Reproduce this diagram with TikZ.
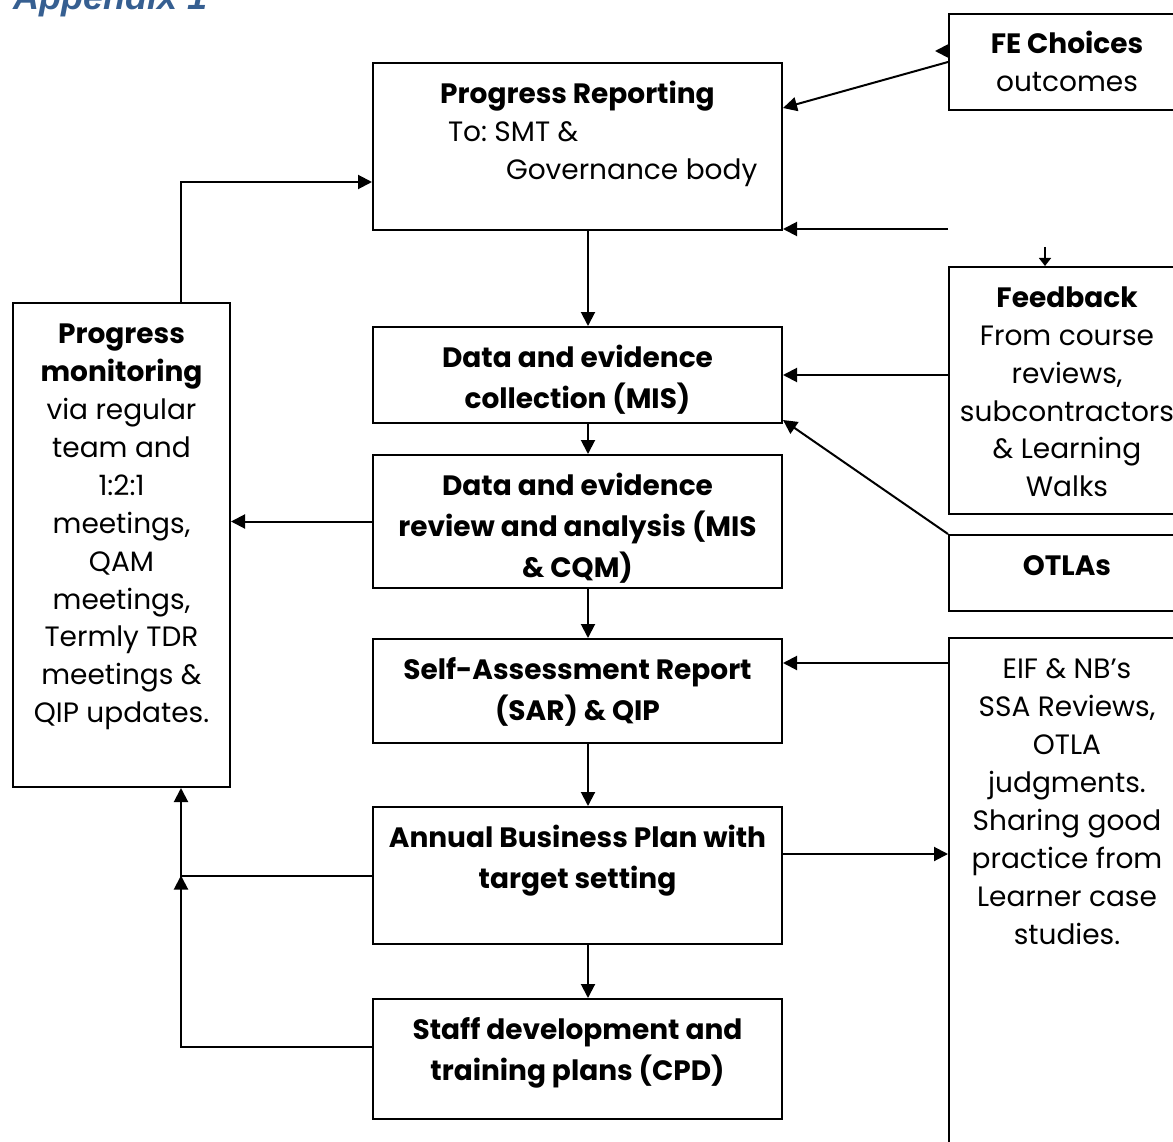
\documentclass[tikz,border=0pt]{standalone}
\usepackage{fontspec}
\setmainfont{Poppins}
\newfontfamily\titlefont{Liberation Sans}
\usepackage{xcolor}
\usetikzlibrary{arrows.meta,positioning,calc}
\definecolor{appblue}{RGB}{54,95,145}
\newcommand{\boxtext}[3]{\parbox[t][#2][t]{#1}{\centering\rule{0pt}{40pt}#3}}

\begin{document}
\begin{tikzpicture}[
    x=1pt, y=-1pt,
    font=\fontsize{28}{38}\selectfont\frenchspacing,
    box/.style={draw, line width=2pt, inner sep=0pt, anchor=north west},
    mainbox/.style={box, font=\fontsize{28}{41}\selectfont\bfseries},
    arr/.style={-{Triangle[length=14pt, width=14pt]}, line width=2pt},
    tinyarr/.style={-{Triangle[length=8pt, width=12pt]}, line width=1.5pt}
]
\useasboundingbox (0,0) rectangle (1173,1142);

% Title
\node[anchor=base west, inner sep=0pt, font=\titlefont\fontsize{36}{40}\selectfont\bfseries\itshape, text=appblue] (title) at (13,10) {Appendix 1};

% Centre column
\node[box] (rep) at (372,62) {\parbox[t][167pt][t]{409pt}{\centering\rule{0pt}{41pt}\textbf{Progress Reporting}\par
    \raggedright\hspace*{75pt}To: SMT \&\\\hspace*{133pt}Governance body}};
\node[mainbox] (coll) at (372,326) {\boxtext{409pt}{96pt}{Data and evidence\\collection (MIS)}};
\node[mainbox] (rev) at (372,454) {\boxtext{409pt}{133pt}{Data and evidence\\review and analysis (MIS\\\& CQM)}};
\node[mainbox] (sar) at (372,638) {\boxtext{409pt}{104pt}{Self-Assessment Report\\(SAR) \& QIP}};
\node[mainbox] (abp) at (372,806) {\boxtext{409pt}{137pt}{Annual Business Plan with\\target setting}};
\node[mainbox] (cpd) at (372,998) {\boxtext{409pt}{120pt}{Staff development and\\training plans (CPD)}};

% Left
\node[box] (mon) at (12,302) {\boxtext{217pt}{484pt}{\textbf{Progress\\monitoring}\\via regular\\team and\\1:2:1\\meetings,\\QAM\\meetings,\\Termly TDR\\meetings \&\\QIP updates.}};

% Right
\node[box] (fe) at (948,13) {\boxtext{236pt}{96pt}{\textbf{FE Choices}\\outcomes}};
\node[box] (fb) at (948,266) {\boxtext{236pt}{247pt}{\textbf{Feedback}\\From course\\reviews,\\subcontractors\\\& Learning\\Walks}};
\node[box] (otla) at (948,534) {\boxtext{236pt}{76pt}{\textbf{OTLAs}}};
\node[box] (eif) at (948,637) {\boxtext{236pt}{540pt}{EIF \& NB’s\\SSA Reviews,\\OTLA\\judgments.\\Sharing good\\practice from\\Learner case\\studies.}};

\coordinate (spine) at (588,0);
\coordinate (loop) at (181,182);
\coordinate (fbline) at (948,229);
\coordinate (sarin) at ([yshift=28pt]sar.east);
\coordinate (abpout) at ([yshift=21.5pt]abp.east);

% Main flow
\draw[arr] (rep.south -| spine) -- (coll.north -| spine);
\draw[arr] (coll.south -| spine) -- (rev.north -| spine);
\draw[arr] (rev.south -| spine) -- (sar.north -| spine);
\draw[arr] (sar.south -| spine) -- (abp.north -| spine);
\draw[arr] (abp.south -| spine) -- (cpd.north -| spine);

% Monitoring loop
\draw[arr] (mon.north -| loop) |- (rep.west |- loop);
\draw[arr] (rev.west) -- (rev.west -| mon.east);
\draw[arr] (abp.west) -| (mon.south -| loop);
\draw[arr] ([yshift=12pt]cpd.west) -| (abp.west -| loop);

% Inputs on the right
\draw[arr] (fe.west) -- ([yshift=38.5pt]rep.east);
\draw[arr] ([yshift=11pt]fe.west) -- ++(-13,0);
\draw[arr] (fbline) -- (fbline -| rep.east);
\draw[tinyarr] ([xshift=-22pt, yshift=19pt]fb.north) -- ([xshift=-22pt]fb.north);
\draw[arr] (fb.west |- coll.east) -- (coll.east);
\draw[arr] (otla.north west) -- ([yshift=4pt]coll.south east);
\draw[arr] (sarin -| eif.west) -- (sarin);
\draw[arr] (abpout) -- (abpout -| eif.west);
\end{tikzpicture}
\end{document}
